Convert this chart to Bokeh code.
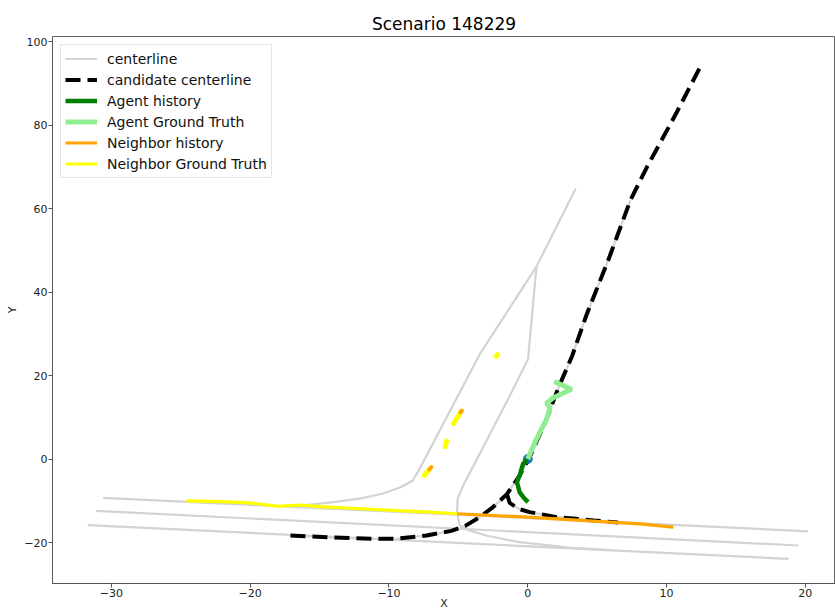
from bokeh.plotting import figure
from bokeh.models import Range1d, FixedTicker, Legend, LegendItem
from bokeh.embed import file_html
from bokeh.resources import INLINE

TITLE = "Scenario 148229"

# ---- map centerlines (grey) ----
cl_a_x = [-30.6, 20.2]
cl_a_y = [-9.3, -17.3]
cl_b_x = [-31.1, 19.5]
cl_b_y = [-12.4, -20.7]
cl_c_x = [-31.7, 18.8]
cl_c_y = [-15.8, -23.9]
cl_left_x = [3.46, 0.63, -3.46, -7.8, -8.3, -9.2, -10.5, -12.0, -14.0, -16.0, -18.0]
cl_left_y = [64.8, 46.1, 25.1, -2.4, -5.2, -6.8, -8.3, -9.4, -10.3, -11.0, -11.3]
cl_right_x = [0.63, 0.02, -1.42, -4.66, -5.05, -5.1, -4.9, -4.2, -3.0, -0.6, 3.0, 6.0]
cl_right_y = [46.1, 23.9, 14.3, -6.4, -9.5, -12.7, -15.9, -17.1, -18.3, -19.9, -21.2, -21.8]

# ---- candidate centerlines (black dashed) ----
cand_main_x = [-17.1, -14.0, -11.0, -9.5, -7.3, -5.5, -4.5, -3.5, -2.5, -1.5, -0.6, 0.14,
               1.35, 2.2, 3.2, 4.2, 5.9, 7.4, 8.6, 10.7, 12.6]
cand_main_y = [-18.3, -18.8, -19.1, -19.1, -18.3, -17.2, -16.0, -14.0, -11.5, -8.4, -4.0, 0.5,
               9.5, 17.0, 24.7, 34.2, 48.5, 62.0, 70.0, 82.8, 95.0]
cand_branch_x = [-1.5, -1.3, -0.6, 0.14, 2.1, 4.8, 6.5]
cand_branch_y = [-8.4, -10.5, -12.0, -12.7, -13.9, -14.7, -15.2]
cand_grey_len = 18  # points of the main candidate path that lie on a mapped centerline

# ---- agent ----
agent_hist_x = [0.02, -0.3, -0.58, -0.77, -0.7, -0.58, -0.45, -0.34, -0.05]
agent_hist_y = [-10.3, -9.2, -8.0, -5.6, -4.8, -4.0, -2.4, -1.2, -0.1]
agent_gt_x = [0.0, 0.63, 1.35, 1.6, 1.35, 1.85, 3.15, 1.9]
agent_gt_y = [0.0, 4.8, 9.5, 12.3, 13.4, 14.7, 16.7, 18.6]
agent_pos_x = [0.0]
agent_pos_y = [0.0]

# ---- neighbors (first = long moving neighbor, rest = short tracks) ----
nb_hist_x = [[-5.1, -2.0, 0.0, 2.1, 5.0, 8.1, 10.5],
             [-4.75, -4.85],
             [-6.95, -7.1]]
nb_hist_y = [[-13.1, -13.6, -13.9, -14.3, -14.9, -15.5, -16.3],
             [11.6, 11.2],
             [-1.9, -2.5]]
nb_gt_x = [[-24.6, -22.0, -20.0, -18.0, -16.3, -15.0, -12.0, -9.0, -7.0, -5.1],
           [-4.85, -5.0, -5.2, -5.35],
           [-5.85, -5.95],
           [-7.1, -7.3, -7.45],
           [-2.25, -2.2]]
nb_gt_y = [[-10.0, -10.2, -10.5, -11.3, -11.0, -11.4, -11.9, -12.4, -12.7, -13.1],
           [11.2, 10.3, 9.3, 8.5],
           [4.3, 3.0],
           [-2.5, -3.3, -3.9],
           [24.6, 25.0]]

x_ticks = [-30, -20, -10, 0, 10, 20]
y_ticks = [-20, 0, 20, 40, 60, 80, 100]

FONT = "DejaVu Sans"

p = figure(width=835, height=612, output_backend="svg", toolbar_location=None,
           x_range=Range1d(-34.25, 22.18), y_range=Range1d(-29.8, 101.2),
           min_border_left=52, min_border_right=0, min_border_top=36, min_border_bottom=27,
           title=TITLE)
p.title.align = "center"
p.title.text_font = FONT
p.title.text_font_size = "17px"
p.title.text_font_style = "normal"
p.title.text_color = "#000000"
p.title.standoff = 5
p.xgrid.visible = False
p.ygrid.visible = False
p.outline_line_color = "#666666"
p.outline_line_width = 1
p.background_fill_color = "white"
p.border_fill_color = "white"


def minus(v):
    return str(v).replace("-", "\u2212")


for ax, ticks, lab in ((p.xaxis[0], x_ticks, "X"), (p.yaxis[0], y_ticks, "Y")):
    ax.ticker = FixedTicker(ticks=ticks)
    ax.major_label_overrides = {t: minus(t) for t in ticks}
    ax.axis_label = lab
    ax.axis_label_text_font = FONT
    ax.axis_label_text_font_size = "11px"
    ax.axis_label_text_font_style = "normal"
    ax.axis_label_text_color = "#222222"
    ax.axis_label_standoff = -3
    ax.major_label_text_font = FONT
    ax.major_label_text_font_size = "11px"
    ax.major_label_text_color = "#222222"
    ax.major_label_standoff = 1
    ax.major_tick_in = 0
    ax.major_tick_out = 4
    ax.major_tick_line_color = "#555555"
    ax.minor_tick_line_color = None
    ax.axis_line_color = "#555555"

p.yaxis[0].axis_label_standoff = 2

GREY = "#d3d3d3"
cl = p.multi_line([cl_a_x, cl_b_x, cl_c_x, cl_left_x, cl_right_x,
                   cand_main_x[:cand_grey_len], cand_branch_x],
                  [cl_a_y, cl_b_y, cl_c_y, cl_left_y, cl_right_y,
                   cand_main_y[:cand_grey_len], cand_branch_y],
                  line_color=GREY, line_width=2.2)

cand = p.multi_line([cand_main_x, cand_branch_x], [cand_main_y, cand_branch_y],
                    line_color="black", line_width=4, line_dash="15 7")

ng = p.multi_line(nb_gt_x[:1], nb_gt_y[:1], line_color="#ffff00", line_width=3.2)
p.multi_line(nb_gt_x[1:], nb_gt_y[1:], line_color="#ffff00", line_width=5, line_cap="round")
nh = p.multi_line(nb_hist_x[:1], nb_hist_y[:1], line_color="#ffa500", line_width=3.2)
p.multi_line(nb_hist_x[1:], nb_hist_y[1:], line_color="#ffa500", line_width=4, line_cap="round")

p.scatter(agent_pos_x, agent_pos_y, size=9, fill_color="#1f77b4", line_color="#1f77b4")
ah = p.line(agent_hist_x, agent_hist_y, line_color="#008000", line_width=4.5)
ag = p.line(agent_gt_x, agent_gt_y, line_color="#90ee90", line_width=5)

legend = Legend(items=[
    LegendItem(label="centerline", renderers=[cl]),
    LegendItem(label="candidate centerline", renderers=[cand]),
    LegendItem(label="Agent history", renderers=[ah]),
    LegendItem(label="Agent Ground Truth", renderers=[ag]),
    LegendItem(label="Neighbor history", renderers=[nh]),
    LegendItem(label="Neighbor Ground Truth", renderers=[ng]),
], location="top_left")
legend.margin = 8
legend.padding = 4
legend.spacing = 2
legend.glyph_width = 32
legend.glyph_height = 19
legend.label_height = 19
legend.label_standoff = 10
legend.label_text_font = FONT
legend.label_text_font_size = "14px"
legend.label_text_color = "#111111"
legend.border_line_color = "#cccccc"
legend.border_line_width = 1
legend.background_fill_alpha = 0.8
p.add_layout(legend)

open("out.html", "w").write(file_html(p, INLINE))
